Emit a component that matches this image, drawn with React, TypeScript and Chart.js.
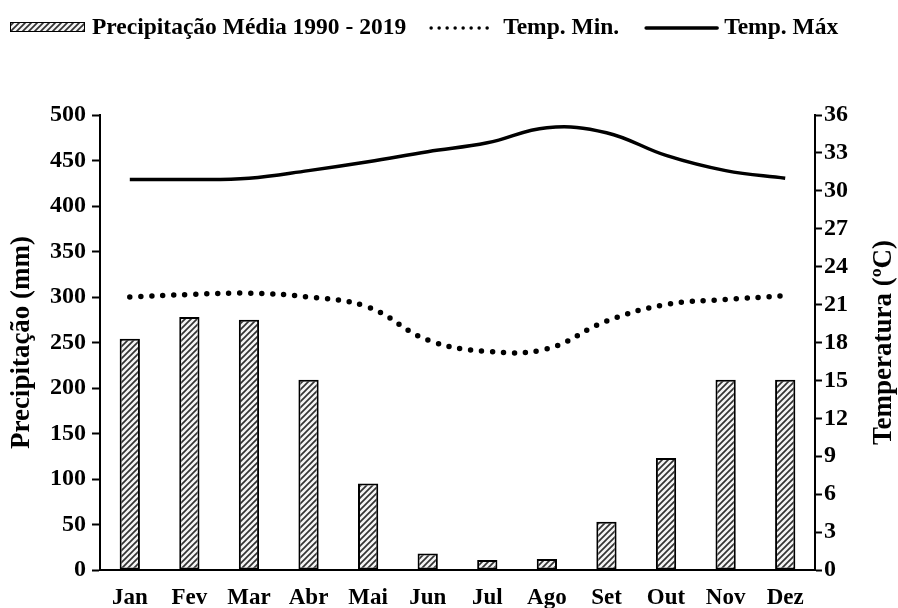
import React, { useEffect, useRef } from 'react';
import { Chart, registerables } from 'chart.js';

Chart.register(...registerables);

const months = ['Jan', 'Fev', 'Mar', 'Abr', 'Mai', 'Jun', 'Jul', 'Ago', 'Set', 'Out', 'Nov', 'Dez'];
const precipitation = [254, 278, 275, 209, 95, 18, 11, 12, 53, 123, 209, 209];
const tempMin = [21.6, 21.8, 21.9, 21.6, 20.8, 18.2, 17.3, 17.5, 19.7, 21.0, 21.4, 21.7];
const tempMax = [30.9, 30.9, 31.0, 31.6, 32.3, 33.1, 33.8, 35.0, 34.6, 32.8, 31.6, 31.0];
const precipTicks = [0, 50, 100, 150, 200, 250, 300, 350, 400, 450, 500];
const tempTicks = [0, 3, 6, 9, 12, 15, 18, 21, 24, 27, 30, 33, 36];

const labelPrecip = 'Precipitação Média 1990 - 2019';
const labelMin = 'Temp. Min.';
const labelMax = 'Temp. Máx';
const titleLeft = 'Precipitação (mm)';
const titleRight = 'Temperatura (ºC)';

const FONT = '"Liberation Serif", "Times New Roman", serif';

function makeHatch(): CanvasPattern | string {
  const c = document.createElement('canvas');
  const s = 6;
  c.width = s;
  c.height = s;
  const g = c.getContext('2d');
  if (!g) return '#999';
  g.fillStyle = '#f4f4f4';
  g.fillRect(0, 0, s, s);
  g.strokeStyle = '#333333';
  g.lineWidth = 1.7;
  g.beginPath();
  g.moveTo(-1, s + 1);
  g.lineTo(s + 1, -1);
  g.moveTo(-s / 2 - 1, s / 2 + 1);
  g.lineTo(s / 2 + 1, -s / 2 - 1);
  g.moveTo(s / 2 - 1, s * 1.5 + 1);
  g.lineTo(s * 1.5 + 1, s / 2 - 1);
  g.stroke();
  return g.createPattern(c, 'repeat') || '#999';
}

export default function App() {
  const ref = useRef<HTMLCanvasElement | null>(null);

  useEffect(() => {
    document.body.style.margin = '0';
    const canvas = ref.current;
    if (!canvas) return;
    const hatch = makeHatch();

    const overlay = {
      id: 'overlay',
      afterDraw(chart: any) {
        const ctx = chart.ctx as CanvasRenderingContext2D;
        const area = chart.chartArea;
        ctx.save();
        ctx.fillStyle = '#000';
        ctx.textBaseline = 'middle';
        // axis titles
        ctx.font = `bold 27px ${FONT}`;
        ctx.textAlign = 'center';
        const cy = (area.top + area.bottom) / 2;
        ctx.save();
        ctx.translate(22, cy);
        ctx.rotate(-Math.PI / 2);
        ctx.fillText(titleLeft, 0, 0);
        ctx.restore();
        ctx.save();
        ctx.translate(884, cy);
        ctx.rotate(-Math.PI / 2);
        ctx.fillText(titleRight, 0, 0);
        ctx.restore();

        // legend
        ctx.font = `bold 23.5px ${FONT}`;
        ctx.textAlign = 'left';
        const y = 27;
        let x = 10;
        // item 1 : hatched box
        ctx.fillStyle = hatch as any;
        ctx.fillRect(x, y - 5, 75, 10);
        ctx.strokeStyle = '#000';
        ctx.lineWidth = 1;
        ctx.strokeRect(x + 0.5, y - 4.5, 74, 9);
        x += 82;
        ctx.fillStyle = '#000';
        ctx.fillText(labelPrecip, x, y + 1);
        x += ctx.measureText(labelPrecip).width + 23;
        // item 2 : dotted
        ctx.beginPath();
        ctx.strokeStyle = '#000';
        ctx.lineWidth = 3.5;
        ctx.lineCap = 'round';
        ctx.setLineDash([0, 8]);
        ctx.moveTo(x + 2, y + 1);
        ctx.lineTo(x + 66, y + 1);
        ctx.stroke();
        ctx.setLineDash([]);
        x += 74;
        ctx.fillText(labelMin, x, y + 1);
        x += ctx.measureText(labelMin).width + 27;
        // item 3 : solid
        ctx.beginPath();
        ctx.lineWidth = 3.5;
        ctx.lineCap = 'round';
        ctx.moveTo(x, y + 1);
        ctx.lineTo(x + 71, y + 1);
        ctx.stroke();
        x += 78;
        ctx.fillText(labelMax, x, y + 1);
        ctx.restore();
      },
    };

    const chart = new Chart(canvas, {
      data: {
        labels: months,
        datasets: [
          {
            type: 'line',
            label: labelMax,
            data: tempMax,
            yAxisID: 'yT',
            borderColor: '#000',
            borderWidth: 3.5,
            pointRadius: 0,
            tension: 0.4,
            fill: false,
            order: 1,
          },
          {
            type: 'line',
            label: labelMin,
            data: tempMin,
            yAxisID: 'yT',
            borderColor: '#000',
            borderWidth: 5.5,
            borderDash: [0, 11],
            borderCapStyle: 'round',
            pointRadius: 0,
            tension: 0.4,
            fill: false,
            order: 2,
          },
          {
            type: 'bar',
            label: labelPrecip,
            data: precipitation,
            yAxisID: 'yP',
            backgroundColor: hatch as any,
            borderColor: '#000',
            borderWidth: 2,
            borderSkipped: false,
            barPercentage: 0.34,
            categoryPercentage: 1,
            order: 3,
          },
        ],
      } as any,
      options: {
        responsive: false,
        animation: false,
        layout: { padding: { top: 115, left: 0, right: 0, bottom: 0 } },
        plugins: {
          legend: { display: false },
          tooltip: { enabled: false },
        },
        scales: {
          x: {
            offset: true,
            grid: { display: false, drawTicks: false },
            border: { display: true, color: '#000', width: 2 },
            ticks: {
              color: '#000',
              font: { family: FONT, size: 23, weight: 'bold' },
              padding: 14,
              maxRotation: 0,
              autoSkip: false,
            },
            afterFit: (s: any) => {
              s.height = 38;
            },
          },
          yP: {
            type: 'linear',
            position: 'left',
            min: 0,
            max: 500,
            afterBuildTicks: (s: any) => {
              s.ticks = precipTicks.map((v) => ({ value: v }));
            },
            grid: {
              display: true,
              drawOnChartArea: false,
              drawTicks: true,
              tickLength: 8,
              tickWidth: 2,
              tickColor: '#000',
            },
            border: { display: true, color: '#000', width: 2 },
            ticks: {
              color: '#000',
              font: { family: FONT, size: 24, weight: 'bold' },
              padding: 6,
            },
            afterFit: (s: any) => {
              s.width = 100;
            },
          },
          yT: {
            type: 'linear',
            position: 'right',
            min: 0,
            max: 36,
            afterBuildTicks: (s: any) => {
              s.ticks = tempTicks.map((v) => ({ value: v }));
            },
            grid: {
              display: true,
              drawOnChartArea: false,
              drawTicks: true,
              tickLength: 7,
              tickWidth: 2,
              tickColor: '#000',
            },
            border: { display: true, color: '#000', width: 2 },
            ticks: {
              color: '#000',
              font: { family: FONT, size: 24, weight: 'bold' },
              padding: 2,
            },
            afterFit: (s: any) => {
              s.width = 83;
            },
          },
        },
      } as any,
      plugins: [overlay],
    });

    return () => {
      chart.destroy();
    };
  }, []);

  return (
    <div style={{ width: 898, height: 608, background: '#fff' }}>
      <canvas ref={ref} width={898} height={608} />
    </div>
  );
}
